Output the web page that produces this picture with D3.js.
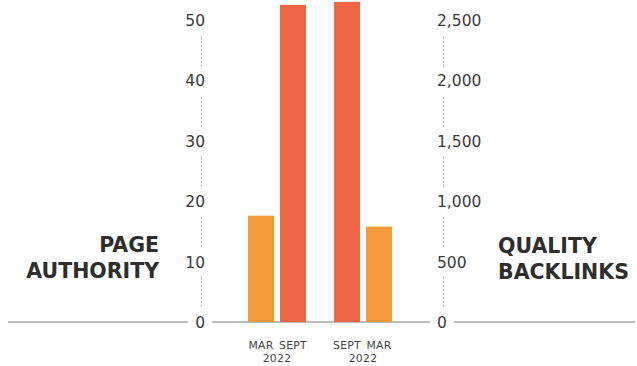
<!DOCTYPE html>
<html>
<head>
<meta charset="utf-8">
<script src="https://cdn.jsdelivr.net/npm/d3@7"></script>
<style>
  html, body { margin: 0; padding: 0; background: #fff; }
  svg { display: block; }
</style>
</head>
<body>
<svg id="chart" width="637" height="366"></svg>
<script>
// ---- data ----
const groups = ["Page Authority", "Quality Backlinks"];
const groupTitles = [["PAGE", "AUTHORITY"], ["QUALITY", "BACKLINKS"]];
const periodsPA = ["MAR", "SEPT"];
const valuesPA = [17.6, 52.5];
const periodsBL = ["SEPT", "MAR"];
const valuesBL = [2650, 790];
const yearLabel = "2022";
const ticksPA = [0, 10, 20, 30, 40, 50];
const ticksBL = [0, 500, 1000, 1500, 2000, 2500];

const colorFor = { "MAR": "#F39A3A", "SEPT": "#EE6646" };

const svg = d3.select("#chart");

const yPA = d3.scaleLinear().domain([0, 50]).range([322, 20]);
const yBL = d3.scaleLinear().domain([0, 2500]).range([322, 20]);

const xGroup = d3.scaleBand().domain(groups).range([248, 392]).paddingInner(0.326);
const xInnerPA = d3.scaleBand().domain(periodsPA).range([0, xGroup.bandwidth()]).paddingInner(0.1875);
const xInnerBL = d3.scaleBand().domain(periodsBL).range([0, xGroup.bandwidth()]).paddingInner(0.1875);

const fontNum = "'DejaVu Sans', sans-serif";

// baseline
svg.append("line")
  .attr("x1", 8).attr("x2", 635)
  .attr("y1", yPA(0)).attr("y2", yPA(0))
  .attr("stroke", "#a9a9a9").attr("stroke-width", 1.3);

// axes
function styleAxis(g, anchor, dx) {
  g.select(".domain")
    .attr("stroke", "#a8a8a8")
    .attr("stroke-width", 1)
    .attr("stroke-dasharray", "1.5,2.5");
  g.selectAll(".tick line").remove();
  g.selectAll(".tick text")
    .attr("x", dx)
    .attr("dy", "0.36em")
    .attr("text-anchor", anchor)
    .attr("fill", "#3a3a3a")
    .style("font-family", fontNum)
    .style("font-size", "15.5px");
  g.selectAll(".tick").each(function() {
    const t = d3.select(this);
    const bb = t.select("text").node().getBBox();
    t.insert("rect", "text")
      .attr("x", bb.x - 7).attr("y", bb.y - 5)
      .attr("width", bb.width + 14).attr("height", bb.height + 10)
      .attr("fill", "#fff");
  });
}

const axisL = svg.append("g").attr("transform", "translate(201,0)")
  .call(d3.axisLeft(yPA).tickValues(ticksPA).tickSize(0).tickSizeOuter(0).tickFormat(d3.format(",")))
  .attr("font-family", null).attr("font-size", null);
styleAxis(axisL, "end", 4);

const axisR = svg.append("g").attr("transform", "translate(443,0)")
  .call(d3.axisRight(yBL).tickValues(ticksBL).tickSize(0).tickSizeOuter(0).tickFormat(d3.format(",")))
  .attr("font-family", null).attr("font-size", null);
styleAxis(axisR, "start", -6);

// bars
const gPA = svg.append("g").attr("transform", `translate(${xGroup(groups[0])},0)`);
gPA.selectAll("rect").data(periodsPA.map((p, i) => ({ p, v: valuesPA[i] })))
  .join("rect")
  .attr("x", d => xInnerPA(d.p)).attr("width", xInnerPA.bandwidth())
  .attr("y", d => yPA(d.v)).attr("height", d => yPA(0) - yPA(d.v))
  .attr("fill", d => colorFor[d.p]);

const gBL = svg.append("g").attr("transform", `translate(${xGroup(groups[1])},0)`);
gBL.selectAll("rect").data(periodsBL.map((p, i) => ({ p, v: valuesBL[i] })))
  .join("rect")
  .attr("x", d => xInnerBL(d.p)).attr("width", xInnerBL.bandwidth())
  .attr("y", d => yBL(d.v)).attr("height", d => yBL(0) - yBL(d.v))
  .attr("fill", d => colorFor[d.p]);

// category labels
const catStyle = sel => sel.attr("fill", "#444")
  .style("font-family", "'DejaVu Sans', sans-serif")
  .style("font-size", "10.8px")
  .style("letter-spacing", "0.3px")
  .attr("text-anchor", "middle");

[[gPA, periodsPA, xInnerPA], [gBL, periodsBL, xInnerBL]].forEach(([g, periods, xi]) => {
  g.selectAll("text.cat").data(periods).join("text")
    .attr("class", "cat")
    .attr("x", d => xi(d) + xi.bandwidth() / 2)
    .attr("y", 349)
    .text(d => d)
    .call(catStyle);
  g.append("text")
    .attr("x", xGroup.bandwidth() / 2)
    .attr("y", 362)
    .text(yearLabel)
    .call(catStyle);
});

// titles
const titleStyle = sel => sel.attr("fill", "#2e2e2e")
  .style("font-family", "'DejaVu Sans', sans-serif")
  .style("font-weight", "bold")
  .style("font-size", "20.5px");

svg.append("text").attr("x", 159).attr("text-anchor", "end").call(titleStyle)
  .selectAll("tspan").data(groupTitles[0]).join("tspan")
  .attr("x", 159).attr("y", (d, i) => 252 + i * 26).text(d => d);

svg.append("text").attr("x", 498).attr("text-anchor", "start").call(titleStyle)
  .selectAll("tspan").data(groupTitles[1]).join("tspan")
  .attr("x", 498).attr("y", (d, i) => 253 + i * 25.5).text(d => d);
</script>
</body>
</html>
